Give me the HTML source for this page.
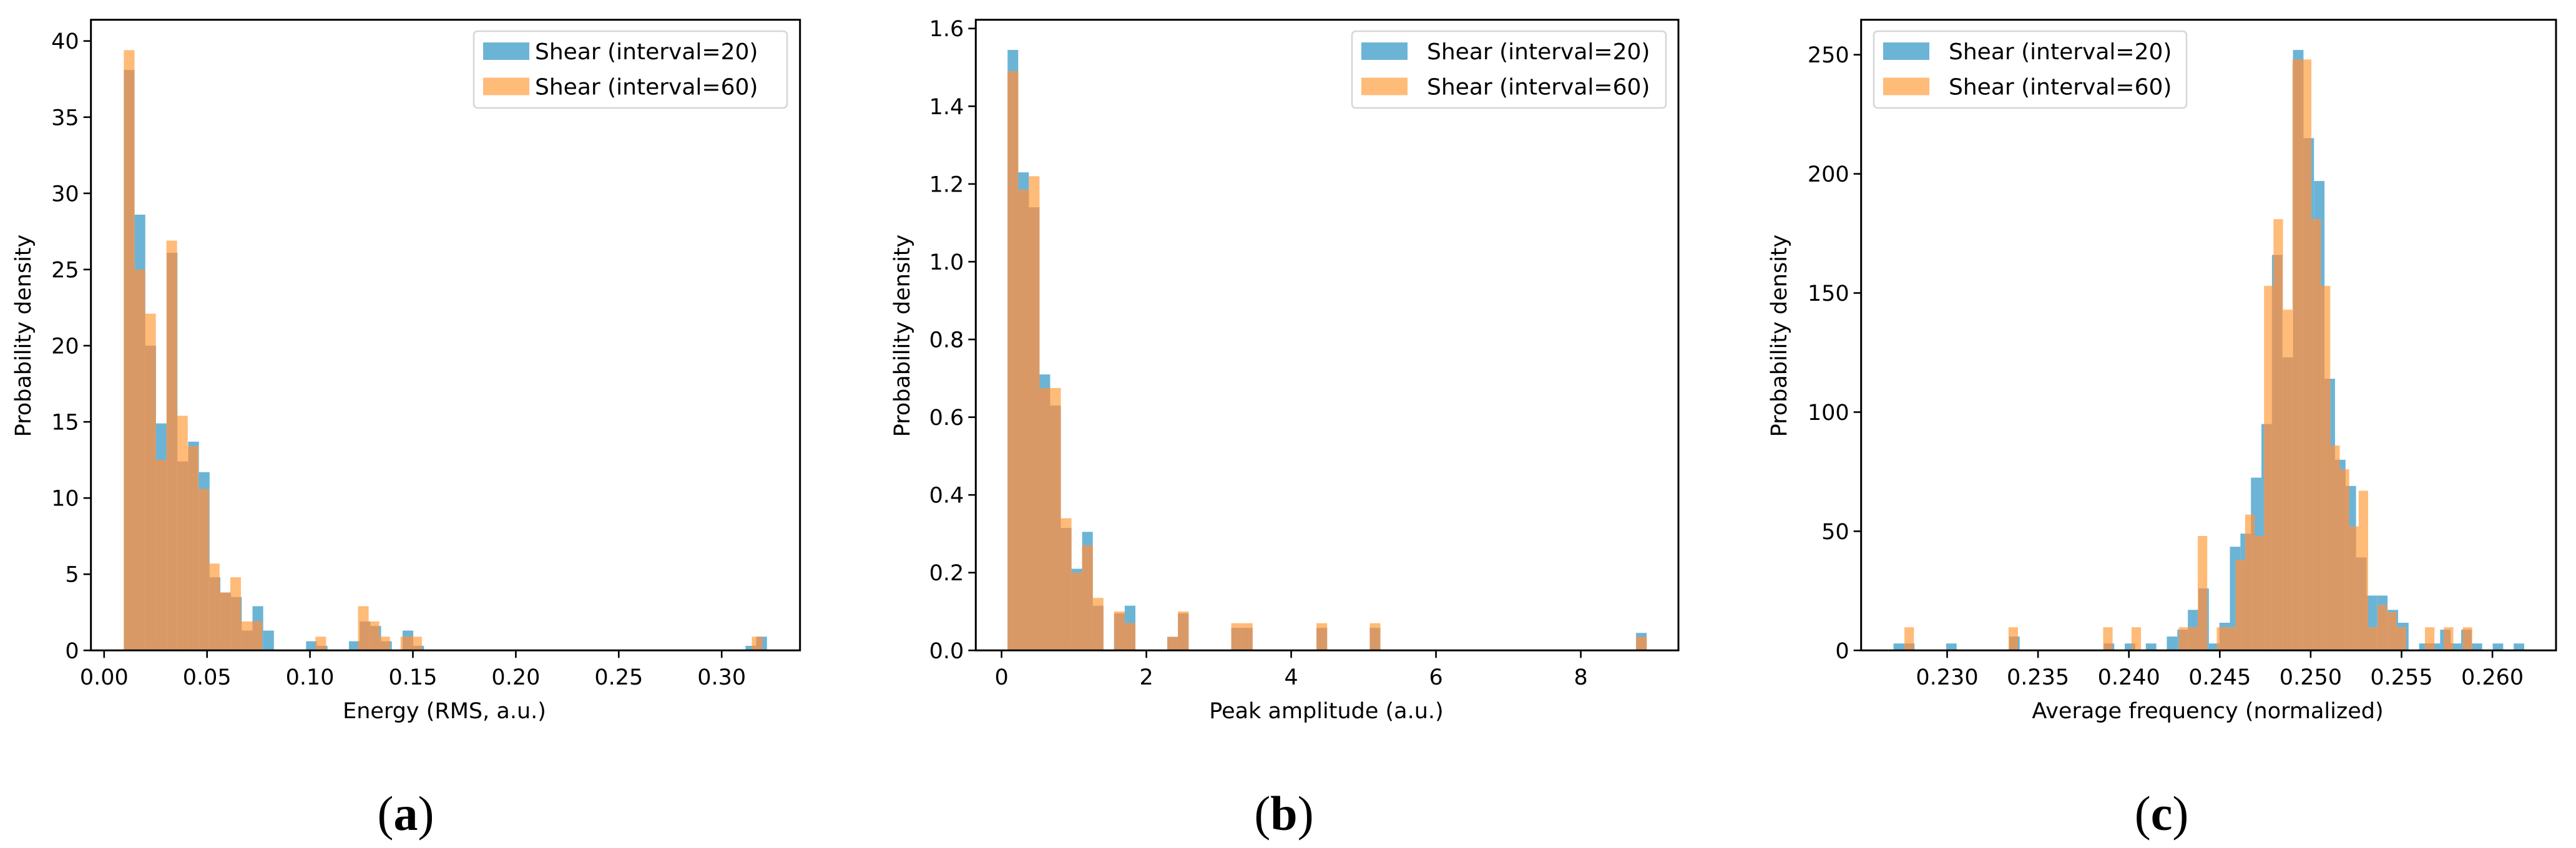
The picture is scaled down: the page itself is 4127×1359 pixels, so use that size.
<!DOCTYPE html>
<html><head><meta charset="utf-8"><style>
html,body{margin:0;padding:0;background:#fff;}
svg{display:block;font-family:"DejaVu Sans","Liberation Sans",sans-serif;}
</style></head><body>
<svg id="fig" width="4127" height="1359" viewBox="0 0 4127 1359" xmlns="http://www.w3.org/2000/svg"></svg>
<script>
// ---- Panel (a) data ----
const aBlue = [38.1,28.6,20,14.9,26.1,12.4,13.7,11.7,4.8,3.8,3.5,1.3,2.9,1.3,0,0,0,0.6,0.3,0,0,0.6,1.9,1.6,0.6,0,1.3,0.3,0,0,0,0,0,0,0,0,0,0,0,0,0,0,0,0,0,0,0,0,0,0,0,0,0,0,0,0,0,0,0.3,0.9];
const aOrange = [39.4,25.0,22.1,12.5,26.9,15.4,13.4,10.6,5.7,3.8,4.8,1.9,1.9,0,0,0,0,0,0.9,0,0,0,2.9,1.9,0.9,0,0.9,0.9,0,0,0,0,0,0,0,0,0,0,0,0,0,0,0,0,0,0,0,0,0,0,0,0,0,0,0,0,0,0,0,0.9];
const aBlueRange = [0.00959,0.322];
const aOrangeRange = [0.00959,0.3198];
const aXTicks = [0,0.05,0.10,0.15,0.20,0.25,0.30];
const aXTickLabels = ["0.00","0.05","0.10","0.15","0.20","0.25","0.30"];
const aYTicks = [0,5,10,15,20,25,30,35,40];
const aYTickLabels = ["0","5","10","15","20","25","30","35","40"];
// ---- Panel (b) data ----
const bBlue = [1.545,1.23,1.14,0.71,0.63,0.315,0.21,0.305,0.115,0,0.095,0.115,0,0,0,0.035,0.095,0,0,0,0,0.058,0.058,0,0,0,0,0,0,0.058,0,0,0,0,0.058,0,0,0,0,0,0,0,0,0,0,0,0,0,0,0,0,0,0,0,0,0,0,0,0,0.045];
const bOrange = [1.49,1.185,1.22,0.675,0.675,0.34,0.20,0.27,0.135,0,0.10,0.07,0,0,0,0.035,0.10,0,0,0,0,0.07,0.07,0,0,0,0,0,0,0.07,0,0,0,0,0.07,0,0,0,0,0,0,0,0,0,0,0,0,0,0,0,0,0,0,0,0,0,0,0,0,0.035];
const bBlueRange = [0.083,8.91];
const bOrangeRange = [0.083,8.91];
const bXTicks = [0,2,4,6,8];
const bXTickLabels = ["0","2","4","6","8"];
const bYTicks = [0,0.2,0.4,0.6,0.8,1.0,1.2,1.4,1.6];
const bYTickLabels = ["0.0","0.2","0.4","0.6","0.8","1.0","1.2","1.4","1.6"];
// ---- Panel (c) data ----
const cBlue = [2.9,2.9,0,0,0,2.9,0,0,0,0,0,5.8,0,0,0,0,0,0,0,0,2.9,0,2.9,0,2.9,0,5.8,8.7,17,26,2.9,11.6,43.5,49,72.5,95,166,123,252,215,197,114,80,69,39,23,23,17,11.6,0,2.9,2.9,8.7,2.9,8.7,2.9,0,2.9,0,2.9];
const cOrange = [9.7,0,0,0,0,0,0,0,0,0,0,9.7,0,0,0,0,0,0,0,0,0,9.7,0,0,9.7,0,0,0,0,9.7,9.7,48,0,9.7,9.7,38,57,48,153,181,143,248,248,181,153,86,76,52,67,9.7,19,16,9.7,0,0,9.7,0,9.7,0,9.7];
const cBlueRange = [0.22705,0.26175];
const cOrangeRange = [0.22765,0.25889];
const cXTicks = [0.230,0.235,0.240,0.245,0.250,0.255,0.260];
const cXTickLabels = ["0.230","0.235","0.240","0.245","0.250","0.255","0.260"];
const cYTicks = [0,50,100,150,200,250];
const cYTickLabels = ["0","50","100","150","200","250"];

const NS = "http://www.w3.org/2000/svg";
const fig = document.getElementById('fig');
const BLUE = "rgb(107,180,214)", ORANGE = "rgb(255,187,120)", OVER = "rgb(217,153,102)";
function mk(tag, attrs, parent){ const e=document.createElementNS(NS,tag); for(const k in attrs) e.setAttribute(k,attrs[k]); (parent||fig).appendChild(e); return e; }

function panel(cfg){
  const g = mk('g',{});
  
  
  const X = v => cfg.px0 + (v - cfg.dx0) / (cfg.dx1 - cfg.dx0) * (cfg.px1 - cfg.px0);
  const Y = v => cfg.py0 - (v - cfg.dy0) / (cfg.dy1 - cfg.dy0) * (cfg.py0 - cfg.py1);
  const base = Y(0);
  const bw = (cfg.bR[1]-cfg.bR[0])/cfg.blue.length;
  const ow = (cfg.oR[1]-cfg.oR[0])/cfg.orange.length;
  cfg.blue.forEach((v,i)=>{ if(v<=0) return;
    const x0=X(cfg.bR[0]+i*bw), x1=X(cfg.bR[0]+(i+1)*bw);
    const r=mk('rect',{x:x0,y:Y(v),width:x1-x0,height:base-Y(v),fill:BLUE},g);
    
    
  });
  cfg.orange.forEach((v,i)=>{ if(v<=0) return;
    const x0=X(cfg.oR[0]+i*ow), x1=X(cfg.oR[0]+(i+1)*ow);
    const r=mk('rect',{x:x0,y:Y(v),width:x1-x0,height:base-Y(v),fill:ORANGE},g);
    
    
  });
  // overlap regions
  cfg.orange.forEach((ov,i)=>{ if(ov<=0) return;
    const oa=cfg.oR[0]+i*ow, ob=oa+ow;
    cfg.blue.forEach((bv,j)=>{ if(bv<=0) return;
      const ba=cfg.bR[0]+j*bw, bb=ba+bw;
      const lo=Math.max(oa,ba), hi=Math.min(ob,bb);
      if(hi<=lo) return;
      const h=Math.min(ov,bv);
      const r=mk('rect',{x:X(lo),y:Y(h),width:X(hi)-X(lo),height:base-Y(h),fill:OVER},g);
      
      
    });
  });
  // axes frame
  const fr=mk('rect',{x:cfg.px0,y:cfg.py1,width:cfg.px1-cfg.px0,height:cfg.py0-cfg.py1,fill:'none',stroke:'#000','stroke-width':3},g);
  
  
  cfg.xt.forEach((t,i)=>{
    const x=X(t);
    mk('line',{x1:x,x2:x,y1:cfg.py0,y2:cfg.py0+12,stroke:'#000','stroke-width':2.6},g);
    const tx=mk('text',{x:x,y:1097,'font-size':35,'text-anchor':'middle',fill:'#000'},g);
    tx.textContent=cfg.xl[i];
    
    
  });
  cfg.yt.forEach((t,i)=>{
    const y=Y(t);
    mk('line',{x1:cfg.px0-12,x2:cfg.px0,y1:y,y2:y,stroke:'#000','stroke-width':2.6},g);
    const tx=mk('text',{x:cfg.px0-19,y:y+12.5,'font-size':35,'text-anchor':'end',fill:'#000'},g);
    tx.textContent=cfg.yl[i];
    
    
  });
  const xl=mk('text',{x:cfg.xlx,y:1151,'font-size':35,'text-anchor':'middle',fill:'#000'},g);
  xl.textContent=cfg.xlabel;
  
  
  const yl=mk('text',{x:0,y:0,'font-size':35,'text-anchor':'middle',fill:'#000',transform:`translate(${cfg.ylx+12},538) rotate(-90)`},g);
  yl.textContent='Probability density';
  
  
  // legend
  const L=cfg.leg;
  const lg=mk('g',{},g);
  
  
  mk('rect',{x:L.x0,y:50,width:L.x1-L.x0,height:123,rx:6,fill:'#fff','fill-opacity':0.85,stroke:'#d6d6d6','stroke-width':2.5},lg);
  [[BLUE,'Shear (interval=20)',68],[ORANGE,'Shear (interval=60)',124.5]].forEach(([c,t,y])=>{
    const e=mk('g',{},lg);
    
    
    mk('rect',{x:L.px,y:y,width:74,height:28,fill:c},e);
    const tx=mk('text',{x:L.tx,y:y+27,'font-size':36,fill:'#000'},e);
    tx.textContent=t;
  });
  const cap=mk('text',{x:cfg.capx,y:1330,'font-size':78,'text-anchor':'middle',fill:'#000','font-family':'"Liberation Serif",serif'},g);
  cap.innerHTML='(<tspan font-weight="bold">'+cfg.id+'</tspan>)';
  
  
}

panel({id:'a',px0:145.7,px1:1281.7,py0:1042.3,py1:31.7,dx0:0,dx1:0.30,dy0:0,dy1:40,
  // data x mapping: x=0 at 166.8, x=0.30 at 1156.2
  blue:aBlue,orange:aOrange,bR:aBlueRange,oR:aOrangeRange,xt:aXTicks,xl:aXTickLabels,yt:aYTicks,yl:aYTickLabels,
  xlabel:'Energy (RMS, a.u.)',xlx:712,ylx:37,capx:650,leg:{x0:759,x1:1261,px:774,tx:857}, _:0});
</script>
<script>
// Re-draw properly with explicit data-to-pixel anchors (override first call)
while(fig.firstChild) fig.removeChild(fig.firstChild);
function panel2(cfg){
  // wrap to map data domain separately from frame
  const fx0=cfg.fx0, fx1=cfg.fx1;
  const c=Object.assign({},cfg);
  // compute px for dx0/dx1 anchors
  panelAnch(c);
}
function panelAnch(c){
  const saveFrame=[c.fx0,c.fx1];
  // temporarily use anchor mapping for X; frame drawn using frame coords
  const origPanel=panel;
  const X=v=>c.ax0+(v-c.dx0)/(c.dx1-c.dx0)*(c.ax1-c.ax0);
  // Convert frame px into data domain so panel() mapping matches anchors
  c.px0=c.fx0; c.px1=c.fx1;
  const dAt=px=>c.dx0+(px-c.ax0)/(c.ax1-c.ax0)*(c.dx1-c.dx0);
  const d0=dAt(c.fx0), d1=dAt(c.fx1);
  c.dx0=d0; c.dx1=d1;
  origPanel(c);
}
panelAnch({id:'a',fx0:145.7,fx1:1281.7,ax0:166.8,ax1:1156.2,dx0:0,dx1:0.30,py0:1042.3,py1:31.7,dy0:0,dy1:40*(1042.3-31.7)/(1042.3-65.7),
  blue:aBlue,orange:aOrange,bR:aBlueRange,oR:aOrangeRange,xt:aXTicks,xl:aXTickLabels,yt:aYTicks,yl:aYTickLabels,
  xlabel:'Energy (RMS, a.u.)',xlx:712,ylx:37,capx:650,leg:{x0:759,x1:1261,px:774,tx:857}});
panelAnch({id:'b',fx0:1563.3,fx1:2689,ax0:1604.6,ax1:2532.6,dx0:0,dx1:8,py0:1042.3,py1:31.7,dy0:0,dy1:1.6*(1042.3-31.7)/(1042.3-45.7),
  blue:bBlue,orange:bOrange,bR:bBlueRange,oR:bOrangeRange,xt:bXTicks,xl:bXTickLabels,yt:bYTicks,yl:bYTickLabels,
  xlabel:'Peak amplitude (a.u.)',xlx:2125,ylx:1445,capx:2057,leg:{x0:2166,x1:2669,px:2181,tx:2286}});
panelAnch({id:'c',fx0:2981.7,fx1:4095,ax0:3119.5,ax1:3993.1,dx0:0.230,dx1:0.260,py0:1042.3,py1:31.7,dy0:0,dy1:250*(1042.3-31.7)/(1042.3-87.7),
  blue:cBlue,orange:cOrange,bR:cBlueRange,oR:cOrangeRange,xt:cXTicks,xl:cXTickLabels,yt:cYTicks,yl:cYTickLabels,
  xlabel:'Average frequency (normalized)',xlx:3537,ylx:2850,capx:3463,leg:{x0:3002,x1:3503,px:3017,tx:3122}});
</script>
</body></html>
